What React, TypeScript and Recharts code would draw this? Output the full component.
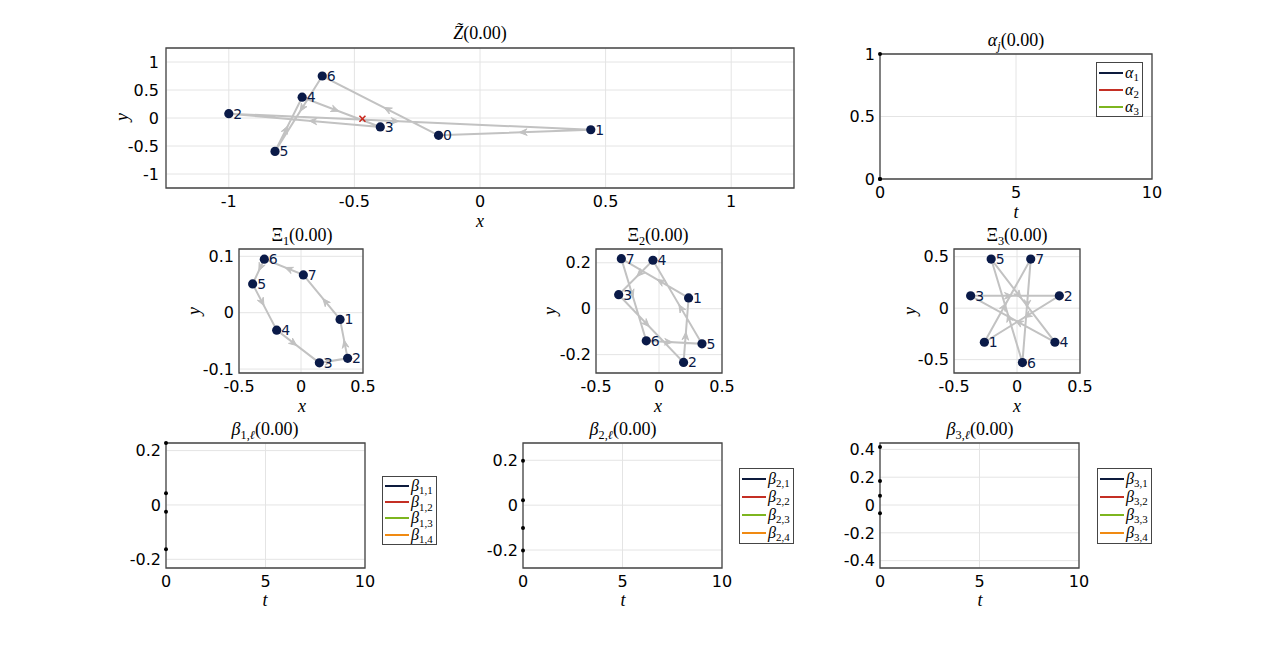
import React from "react";
import {
  ScatterChart,
  Scatter,
  LineChart,
  Line,
  XAxis,
  YAxis,
  CartesianGrid,
  ReferenceArea,
  Legend,
} from "recharts";

// ---- data ----
const zLabels = ["0", "1", "2", "3", "4", "5", "6"];
const zX = [-0.165, 0.441, -1.0, -0.397, -0.708, -0.816, -0.628];
const zY = [-0.31, -0.21, 0.077, -0.16, 0.371, -0.596, 0.75];
const zCenterX = [-0.468];
const zCenterY = [-0.013];

const xiLabels = ["1", "2", "3", "4", "5", "6", "7"];
const xi1X = [0.315, 0.376, 0.148, -0.196, -0.39, -0.296, 0.019];
const xi1Y = [-0.012, -0.081, -0.089, -0.031, 0.051, 0.095, 0.067];
const xi2X = [0.235, 0.195, -0.32, -0.048, 0.341, -0.101, -0.299];
const xi2Y = [0.047, -0.234, 0.061, 0.211, -0.153, -0.14, 0.218];
const xi3X = [-0.259, 0.336, -0.368, 0.301, -0.205, 0.043, 0.109];
const xi3Y = [-0.331, 0.12, 0.12, -0.331, 0.477, -0.529, 0.477];

const tValues = [0];
const alphaValues = [1, 0, 0];
const beta1Values = [0.228, 0.043, -0.025, -0.163];
const beta2Values = [0.198, 0.022, -0.102, -0.202];
const beta3Values = [0.417, 0.173, 0.067, -0.06];

const seriesColors = ["#0d1b3d", "#c42f24", "#7db51f", "#f08a12"];

const SERIF = '"Liberation Serif", "DejaVu Serif", serif';
const SANS = '"DejaVu Sans", sans-serif';
const DOT = "#0a1a48";
const PATH = "#c2c2c2";
const FRAME = "#454545";
const GRID = "#e4e4e4";

const ML = 60;
const MT = 10;
const MB = 40;

type Frame = {
  left: number;
  top: number;
  w: number;
  h: number;
  xd: [number, number];
  yd: [number, number];
  xt: number[];
  yt: number[];
  gap: number;
};

const tickStyle = { fontSize: 16, fill: "#000", fontFamily: SANS };

const Sub = ({ children }: { children: React.ReactNode }) => (
  <span style={{ fontSize: "0.68em", position: "relative", top: "0.3em" }}>
    {children}
  </span>
);

const Txt = ({
  x,
  y,
  rotate,
  size = 18,
  children,
}: {
  x: number;
  y: number;
  rotate?: boolean;
  size?: number;
  children: React.ReactNode;
}) => (
  <div
    style={{
      position: "absolute",
      left: x,
      top: y,
      transform: `translate(-50%, -50%)${rotate ? " rotate(-90deg)" : ""}`,
      fontFamily: SERIF,
      fontSize: size,
      lineHeight: 1,
      whiteSpace: "nowrap",
    }}
  >
    {children}
  </div>
);

const LabeledDot = (p: any) => (
  <g>
    <circle cx={p.cx} cy={p.cy} r={4.6} fill={DOT} />
    <text
      x={p.cx + 4.5}
      y={p.cy}
      dy="0.36em"
      fontSize={14}
      fill={DOT}
      fontFamily={SANS}
    >
      {p.payload.label}
    </text>
  </g>
);

const ArrowHead = (p: any) => {
  const a = p.payload.ang;
  const L = 8.5;
  const s = 0.4;
  const bx = (k: number) => p.cx - L * Math.cos(a + k);
  const by = (k: number) => p.cy - L * Math.sin(a + k);
  const ix = p.cx - L * 0.6 * Math.cos(a);
  const iy = p.cy - L * 0.6 * Math.sin(a);
  return (
    <path
      d={`M${bx(s)},${by(s)} L${p.cx},${p.cy} L${bx(-s)},${by(-s)} L${ix},${iy} Z`}
      fill={PATH}
      stroke={PATH}
      strokeWidth={1}
      strokeLinejoin="round"
    />
  );
};

const Cross = (p: any) => (
  <g stroke="#c8281e" strokeWidth={1.6}>
    <line x1={p.cx - 3} y1={p.cy - 3} x2={p.cx + 3} y2={p.cy + 3} />
    <line x1={p.cx - 3} y1={p.cy + 3} x2={p.cx + 3} y2={p.cy - 3} />
  </g>
);

const PointPanel = ({
  f,
  labels,
  xs,
  ys,
  cx,
  cy,
}: {
  f: Frame;
  labels: string[];
  xs: number[];
  ys: number[];
  cx?: number[];
  cy?: number[];
}) => {
  const n = xs.length;
  const pts = xs.map((x, i) => ({ x, y: ys[i], label: labels[i] }));
  const closed = [...pts, pts[0]];
  const kx = f.w / (f.xd[1] - f.xd[0]);
  const ky = f.h / (f.yd[1] - f.yd[0]);
  // arrow on each edge, pointing from point i to point i-1
  const arrows = pts.map((p, i) => {
    const q = pts[(i - 1 + n) % n];
    const dx = q.x - p.x;
    const dy = q.y - p.y;
    return {
      x: p.x + dx * 0.47,
      y: p.y + dy * 0.47,
      ang: Math.atan2(-dy * ky, dx * kx),
    };
  });
  const centers = cx ? cx.map((x, i) => ({ x, y: cy![i] })) : [];
  const MR = 30;
  return (
    <div style={{ position: "absolute", left: f.left - ML, top: f.top - MT }}>
      <ScatterChart
        width={f.w + ML + MR}
        height={f.h + MT + MB}
        margin={{ top: MT, right: MR, bottom: 0, left: 0 }}
      >
        <CartesianGrid stroke={GRID} />
        <XAxis
          type="number"
          dataKey="x"
          domain={f.xd}
          ticks={f.xt}
          interval={0}
          height={MB}
          tickLine={false}
          axisLine={false}
          tick={tickStyle}
        />
        <YAxis
          type="number"
          dataKey="y"
          domain={f.yd}
          ticks={f.yt}
          interval={0}
          width={ML}
          tickLine={false}
          axisLine={false}
          tickSize={f.gap}
          tickMargin={0}
          tick={tickStyle}
        />
        <ReferenceArea
          x1={f.xd[0]}
          x2={f.xd[1]}
          y1={f.yd[0]}
          y2={f.yd[1]}
          fill="none"
          stroke={FRAME}
          strokeWidth={1.3}
          ifOverflow="visible"
        />
        <Scatter
          data={closed}
          line={{ stroke: PATH, strokeWidth: 2 }}
          lineType="joint"
          shape={() => <g />}
          isAnimationActive={false}
        />
        <Scatter data={arrows} shape={ArrowHead} isAnimationActive={false} />
        {centers.length > 0 && (
          <Scatter data={centers} shape={Cross} isAnimationActive={false} />
        )}
        <Scatter data={pts} shape={LabeledDot} isAnimationActive={false} />
      </ScatterChart>
    </div>
  );
};

const makeLegend = (rowH: number) => (props: any) => (
  <div
    style={{
      border: `1px solid ${FRAME}`,
      background: "#fff",
      padding: "1px 3px 1px 2px",
    }}
  >
    {(props.payload || []).map((e: any) => {
      const [sym, sub] = String(e.value).split(" ");
      return (
        <div
          key={e.value}
          style={{ display: "flex", alignItems: "center", height: rowH }}
        >
          <span
            style={{
              display: "inline-block",
              width: 24,
              height: 2,
              background: e.color,
              marginRight: 2,
            }}
          />
          <span style={{ fontFamily: SERIF, fontSize: 16, lineHeight: 1 }}>
            <i>{sym}</i>
            <Sub>{sub}</Sub>
          </span>
        </div>
      );
    })}
  </div>
);

const TimePanel = ({
  f,
  values,
  sym,
  subs,
  legendAt,
  rowH,
  MR,
}: {
  f: Frame;
  values: number[];
  sym: string;
  subs: string[];
  legendAt: [number, number];
  rowH: number;
  MR: number;
}) => {
  const row: Record<string, number> = { t: tValues[0] };
  values.forEach((v, i) => (row["s" + i] = v));
  const data = [row];
  const ox = f.left - ML;
  const oy = f.top - MT;
  return (
    <div style={{ position: "absolute", left: ox, top: oy }}>
      <LineChart
        width={f.w + ML + MR}
        height={f.h + MT + MB}
        data={data}
        margin={{ top: MT, right: MR, bottom: 0, left: 0 }}
      >
        <CartesianGrid stroke={GRID} />
        <XAxis
          type="number"
          dataKey="t"
          domain={f.xd}
          ticks={f.xt}
          interval={0}
          height={MB}
          tickLine={false}
          axisLine={false}
          tick={tickStyle}
        />
        <YAxis
          type="number"
          domain={f.yd}
          ticks={f.yt}
          interval={0}
          width={ML}
          tickLine={false}
          axisLine={false}
          tickSize={f.gap}
          tickMargin={0}
          tick={tickStyle}
        />
        <ReferenceArea
          x1={f.xd[0]}
          x2={f.xd[1]}
          y1={f.yd[0]}
          y2={f.yd[1]}
          fill="none"
          stroke={FRAME}
          strokeWidth={1.3}
          ifOverflow="visible"
        />
        <Legend
          layout="vertical"
          align="center"
          verticalAlign="middle"
          wrapperStyle={{
            left: legendAt[0] - ox,
            top: legendAt[1] - oy,
            width: "auto",
            height: "auto",
          }}
          content={makeLegend(rowH)}
        />
        {values.map((_, i) => (
          <Line
            key={i}
            type="linear"
            dataKey={"s" + i}
            name={`${sym} ${subs[i]}`}
            stroke={seriesColors[i]}
            strokeWidth={2}
            dot={{ r: 2, fill: "#000", stroke: "none" }}
            isAnimationActive={false}
          />
        ))}
      </LineChart>
    </div>
  );
};

const xiTicks = [-0.5, 0, 0.5];
const tTicks = [0, 5, 10];

export default function App() {
  return (
    <div
      style={{
        position: "absolute",
        left: 0,
        top: 0,
        width: 1273,
        height: 648,
        background: "#fff",
        overflow: "hidden",
      }}
    >
      <PointPanel
        f={{
          left: 166,
          top: 48,
          w: 628,
          h: 140,
          xd: [-1.25, 1.25],
          yd: [-1.25, 1.25],
          xt: [-1, -0.5, 0, 0.5, 1],
          yt: [-1, -0.5, 0, 0.5, 1],
          gap: 7,
        }}
        labels={zLabels}
        xs={zX}
        ys={zY}
        cx={zCenterX}
        cy={zCenterY}
      />
      <TimePanel
        f={{
          left: 880,
          top: 54,
          w: 272,
          h: 125,
          xd: [0, 10],
          yd: [0, 1],
          xt: tTicks,
          yt: [0, 0.5, 1],
          gap: 5,
        }}
        values={alphaValues}
        sym="α"
        subs={["1", "2", "3"]}
        legendAt={[1096, 62]}
        rowH={17}
        MR={20}
      />
      <PointPanel
        f={{
          left: 239,
          top: 249,
          w: 124,
          h: 124,
          xd: [-0.5, 0.5],
          yd: [-0.107, 0.113],
          xt: xiTicks,
          yt: [-0.1, 0, 0.1],
          gap: 5,
        }}
        labels={xiLabels}
        xs={xi1X}
        ys={xi1Y}
      />
      <PointPanel
        f={{
          left: 596,
          top: 249,
          w: 126,
          h: 124,
          xd: [-0.5, 0.5],
          yd: [-0.28, 0.26],
          xt: xiTicks,
          yt: [-0.2, 0, 0.2],
          gap: 5,
        }}
        labels={xiLabels}
        xs={xi2X}
        ys={xi2Y}
      />
      <PointPanel
        f={{
          left: 954,
          top: 249,
          w: 126,
          h: 124,
          xd: [-0.5, 0.5],
          yd: [-0.63, 0.575],
          xt: xiTicks,
          yt: [-0.5, 0, 0.5],
          gap: 5,
        }}
        labels={xiLabels}
        xs={xi3X}
        ys={xi3Y}
      />
      <TimePanel
        f={{
          left: 166,
          top: 443,
          w: 199,
          h: 125,
          xd: [0, 10],
          yd: [-0.232, 0.228],
          xt: tTicks,
          yt: [-0.2, 0, 0.2],
          gap: 5,
        }}
        values={beta1Values}
        sym="β"
        subs={["1,1", "1,2", "1,3", "1,4"]}
        legendAt={[382, 476]}
        rowH={16.2}
        MR={90}
      />
      <TimePanel
        f={{
          left: 523,
          top: 443,
          w: 199,
          h: 125,
          xd: [0, 10],
          yd: [-0.28, 0.277],
          xt: tTicks,
          yt: [-0.2, 0, 0.2],
          gap: 5,
        }}
        values={beta2Values}
        sym="β"
        subs={["2,1", "2,2", "2,3", "2,4"]}
        legendAt={[739, 468]}
        rowH={18}
        MR={90}
      />
      <TimePanel
        f={{
          left: 880,
          top: 443,
          w: 199,
          h: 125,
          xd: [0, 10],
          yd: [-0.453, 0.446],
          xt: tTicks,
          yt: [-0.4, -0.2, 0, 0.2, 0.4],
          gap: 5,
        }}
        values={beta3Values}
        sym="β"
        subs={["3,1", "3,2", "3,3", "3,4"]}
        legendAt={[1097, 468]}
        rowH={18}
        MR={90}
      />

      {/* titles */}
      <Txt x={480} y={33}>
        <i>Z&#771;</i>(0.00)
      </Txt>
      <Txt x={1016} y={40}>
        <i>α</i>
        <Sub>
          <i>j</i>
        </Sub>
        (0.00)
      </Txt>
      <Txt x={302} y={235}>
        Ξ<Sub>1</Sub>(0.00)
      </Txt>
      <Txt x={658} y={235}>
        Ξ<Sub>2</Sub>(0.00)
      </Txt>
      <Txt x={1017} y={235}>
        Ξ<Sub>3</Sub>(0.00)
      </Txt>
      <Txt x={265} y={429}>
        <i>β</i>
        <Sub>
          1,<i>ℓ</i>
        </Sub>
        (0.00)
      </Txt>
      <Txt x={623} y={429}>
        <i>β</i>
        <Sub>
          2,<i>ℓ</i>
        </Sub>
        (0.00)
      </Txt>
      <Txt x={980} y={429}>
        <i>β</i>
        <Sub>
          3,<i>ℓ</i>
        </Sub>
        (0.00)
      </Txt>

      {/* axis labels */}
      <Txt x={480} y={221}>
        <i>x</i>
      </Txt>
      <Txt x={122} y={117} rotate>
        <i>y</i>
      </Txt>
      <Txt x={1016} y={212}>
        <i>t</i>
      </Txt>
      <Txt x={302} y={406}>
        <i>x</i>
      </Txt>
      <Txt x={194} y={311} rotate>
        <i>y</i>
      </Txt>
      <Txt x={658} y={406}>
        <i>x</i>
      </Txt>
      <Txt x={550} y={311} rotate>
        <i>y</i>
      </Txt>
      <Txt x={1017} y={406}>
        <i>x</i>
      </Txt>
      <Txt x={910} y={311} rotate>
        <i>y</i>
      </Txt>
      <Txt x={265} y={600}>
        <i>t</i>
      </Txt>
      <Txt x={623} y={600}>
        <i>t</i>
      </Txt>
      <Txt x={980} y={600}>
        <i>t</i>
      </Txt>
    </div>
  );
}
